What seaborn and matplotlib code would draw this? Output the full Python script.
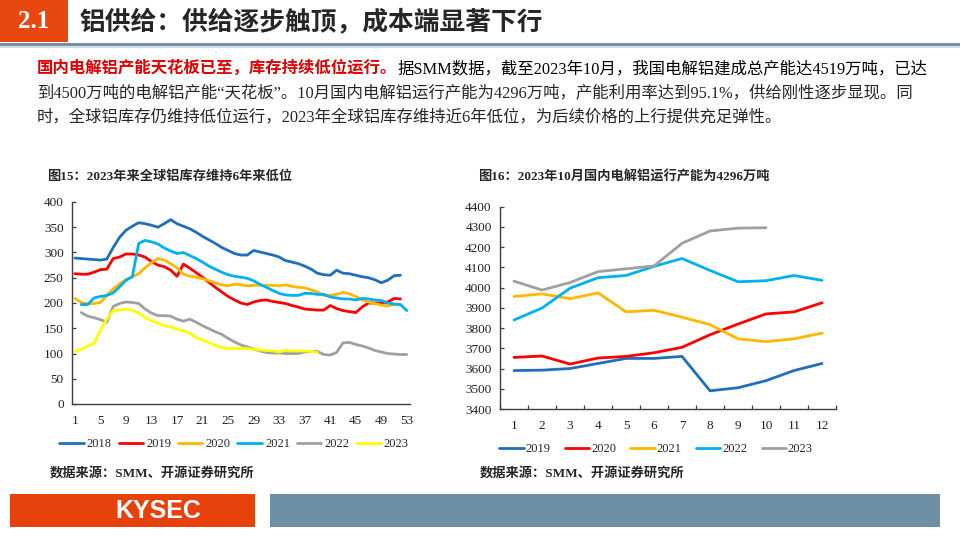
import matplotlib
matplotlib.use("Agg")
from matplotlib import pyplot as plt
from matplotlib.patches import Rectangle
from matplotlib.lines import Line2D
import numpy as np
import pandas as pd
import seaborn as sns

nan = np.nan

# ----- data: global aluminium inventory (10k t), weekly -----
weeks = list(range(1, 54))
stock_2018 = [289, 288, 287, 286, 285, 287, 310, 330, 344, 352,
              359, 357, 354, 350, 357, 365, 357, 352, 347, 340,
              332, 325, 318, 310, 304, 298, 295, 295, 304, 301,
              298, 295, 291, 284, 281, 278, 273, 267, 259, 256,
              255, 265, 259, 258, 255, 252, 250, 246, 240, 245,
              254, 255, nan]
stock_2019 = [258, 257, 257, 261, 266, 267, 288, 291, 297, 297,
              295, 291, 282, 275, 272, 265, 253, 277, 269, 260,
              251, 241, 231, 222, 213, 206, 200, 197, 202, 205,
              206, 203, 201, 199, 195, 192, 188, 187, 186, 186,
              195, 189, 185, 183, 181, 192, 200, 200, 200, 202,
              209, 208, nan]
stock_2020 = [209, 201, 198, 199, 201, 215, 228, 238, 246, 252,
              258, 270, 280, 288, 285, 278, 270, 257, 253, 251,
              248, 244, 240, 236, 234, 237, 236, 234, 235, 235,
              235, 235, 234, 236, 233, 231, 230, 226, 222, 215,
              215, 217, 221, 218, 213, 206, 202, 199, 196, 194,
              197, 197, nan]
stock_2021 = [nan, 197, 197, 210, 213, 215, 220, 232, 245, 252,
              318, 324, 321, 317, 309, 303, 298, 300, 294, 288,
              281, 273, 267, 261, 256, 253, 251, 249, 244, 237,
              231, 225, 219, 216, 215, 215, 219, 219, 217, 217,
              212, 210, 208, 208, 206, 209, 208, 206, 205, 200,
              198, 197, 185]
stock_2022 = [nan, 181, 174, 171, 167, 162, 193, 199, 202, 201,
              199, 188, 180, 175, 175, 174, 168, 164, 168, 162,
              155, 149, 143, 138, 130, 123, 117, 113, 109, 105,
              102, 101, 101, 100, 100, 100, 103, 104, 104, 98,
              97, 102, 121, 122, 118, 115, 111, 106, 103, 100,
              99, 98, 98]
stock_2023 = [104, 108, 115, 120, 147, 168, 185, 186, 188, 186,
              180, 171, 165, 160, 155, 153, 148, 145, 140, 131,
              127, 121, 116, 112, 110, 110, 110, 110, 108, 107,
              106, 105, 103, 106, 105, 105, 105, 104, 102] + [nan] * 14
stock_years = ["2018", "2019", "2020", "2021", "2022", "2023"]
stock_colors = ["#1F6FBA", "#FF0000", "#FFB800", "#00B0F0", "#A0A0A0", "#FFFF00"]

# ----- data: domestic electrolytic aluminium running capacity (10k t), monthly -----
months = list(range(1, 13))
cap_2019 = [3590, 3592, 3600, 3625, 3650, 3650, 3660, 3490, 3505, 3540, 3590, 3625]
cap_2020 = [3655, 3662, 3622, 3652, 3660, 3678, 3705, 3767, 3820, 3870, 3880, 3925]
cap_2021 = [3956, 3969, 3945, 3974, 3880, 3888, 3854, 3817, 3747, 3733, 3747, 3775]
cap_2022 = [3840, 3899, 3997, 4049, 4060, 4105, 4144, 4085, 4029, 4034, 4060, 4036]
cap_2023 = [4032, 3988, 4025, 4079, 4093, 4107, 4219, 4280, 4294, 4296, nan, nan]
cap_years = ["2019", "2020", "2021", "2022", "2023"]
cap_colors = ["#1F6FBA", "#FF0000", "#FFB800", "#00B0F0", "#A0A0A0"]


def to_long(xs, series, names, xname):
    rows = []
    for name, vals in zip(names, series):
        for x, v in zip(xs, vals):
            if not np.isnan(v):
                rows.append({xname: x, "value": v, "year": name})
    return pd.DataFrame(rows)


df_stock = to_long(weeks, [stock_2018, stock_2019, stock_2020, stock_2021,
                           stock_2022, stock_2023], stock_years, "week")
df_cap = to_long(months, [cap_2019, cap_2020, cap_2021, cap_2022, cap_2023],
                 cap_years, "month")

sns.set_theme(style="white")
plt.rcParams["font.family"] = ["Liberation Serif", "Noto Sans CJK SC"]
plt.rcParams["axes.unicode_minus"] = False

fig = plt.figure(figsize=(9.6, 5.4), dpi=100)
W, H = 960, 540


def fx(px):
    return px / W


def fy(py):
    return 1 - py / H


# ----- header -----
fig.patches.append(Rectangle((0, fy(42)), fx(68), 42 / H, transform=fig.transFigure,
                             facecolor="#E8470F", edgecolor="none"))
fig.text(fx(34), fy(21), "2.1", color="white", fontsize=18, weight="bold",
         ha="center", va="center", family=["Liberation Serif"])
fig.text(fx(80), fy(22), "铝供给：供给逐步触顶，成本端显著下行", fontsize=18.5,
         weight="bold", ha="left", va="center", family=["Noto Sans CJK SC"])
fig.add_artist(Line2D([0, 1], [fy(44), fy(44)], transform=fig.transFigure,
                      color="#6D8A9C", lw=2))
fig.add_artist(Line2D([0, 1], [fy(46.5), fy(46.5)], transform=fig.transFigure,
                      color="#CBD5DC", lw=1.2))

# ----- paragraph -----
para_fs = 11.8
t_red = fig.text(fx(37), fy(77), "国内电解铝产能天花板已至，库存持续低位运行。",
                 color="#E00000", fontsize=para_fs, weight="bold", va="bottom")
fig.add_artist(plt.Annotation("据SMM数据，截至2023年10月，我国电解铝建成总产能达4519万吨，已达",
                              xy=(1, 0), xycoords=t_red, va="bottom",
                              fontsize=para_fs, color="black"))
fig.text(fx(37), fy(101), "到4500万吨的电解铝产能“天花板”。10月国内电解铝运行产能为4296万吨，"
         "产能利用率达到95.1%，供给刚性逐步显现。同", fontsize=para_fs, va="bottom")
fig.text(fx(37), fy(125), "时，全球铝库存仍维持低位运行，2023年全球铝库存维持近6年低位，"
         "为后续价格的上行提供充足弹性。", fontsize=para_fs, va="bottom")

# ----- chart titles -----
fig.text(fx(47), fy(177), "图15：2023年来全球铝库存维持6年来低位", fontsize=9.5,
         weight="bold", va="center")
fig.text(fx(478), fy(177), "图16：2023年10月国内电解铝运行产能为4296万吨",
         fontsize=9.5, weight="bold", va="center")

# ----- left chart -----
ax1 = fig.add_axes([fx(72), fy(404), fx(410) - fx(72), (404 - 202) / H])
sns.lineplot(data=df_stock, x="week", y="value", hue="year", hue_order=stock_years,
             palette=dict(zip(stock_years, stock_colors)), linewidth=2.0,
             errorbar=None, ax=ax1)
ax1.set_xlim(0.55, 53.5)
ax1.set_ylim(0, 400)
ax1.set_xticks(range(1, 54, 4))
ax1.set_yticks(range(0, 401, 50))

# ----- right chart -----
ax2 = fig.add_axes([fx(500), fy(409), fx(836) - fx(500), (409 - 206.7) / H])
sns.lineplot(data=df_cap, x="month", y="value", hue="year", hue_order=cap_years,
             palette=dict(zip(cap_years, cap_colors)), linewidth=2.0,
             errorbar=None, ax=ax2)
ax2.set_xlim(0.5, 12.5)
ax2.set_ylim(3400, 4400)
ax2.set_xticks(months)
ax2.set_xticks(np.arange(0.5, 12.6, 1), minor=True)
ax2.set_yticks(range(3400, 4401, 100))

for ax in (ax1, ax2):
    ax.set_xlabel("")
    ax.set_ylabel("")
    for s in ("top", "right"):
        ax.spines[s].set_visible(False)
    for s in ("left", "bottom"):
        ax.spines[s].set_color("#404040")
        ax.spines[s].set_linewidth(1.0)
    ax.tick_params(axis="y", direction="in", length=3, width=0.9, color="#404040",
                   left=True, pad=6, labelsize=9.5, labelcolor="#222222")
    ax.tick_params(axis="x", which="major", length=0, pad=8, labelsize=9.5,
                   labelcolor="#222222")

ax2.tick_params(axis="x", which="minor", direction="in", length=3, width=0.9,
                color="#404040", bottom=True)

# legends
h1, l1 = ax1.get_legend_handles_labels()
ax1.legend(h1, l1, ncol=6, loc="center", frameon=False, fontsize=9,
           bbox_to_anchor=(fx(234), fy(444)), bbox_transform=fig.transFigure,
           handlelength=1.95, handletextpad=0.25, columnspacing=0.55)
h2, l2 = ax2.get_legend_handles_labels()
ax2.legend(h2, l2, ncol=5, loc="center", frameon=False, fontsize=9,
           bbox_to_anchor=(fx(656), fy(449)), bbox_transform=fig.transFigure,
           handlelength=1.95, handletextpad=0.15, columnspacing=1.15)

# sources
fig.text(fx(50), fy(473), "数据来源：SMM、开源证券研究所", fontsize=9.5,
         weight="bold", va="center")
fig.text(fx(480), fy(473), "数据来源：SMM、开源证券研究所", fontsize=9.5,
         weight="bold", va="center")

# ----- footer banner -----
fig.patches.append(Rectangle((fx(10), fy(527)), fx(245), 33 / H, transform=fig.transFigure,
                             facecolor="#E8420C", edgecolor="none"))
fig.patches.append(Rectangle((fx(270), fy(527)), fx(670), 33 / H, transform=fig.transFigure,
                             facecolor="#6E8FA3", edgecolor="none"))
fig.text(fx(158), fy(511), "KYSEC", color="white", fontsize=18, weight="bold",
         ha="center", va="center", family=["Liberation Sans"])

fig.savefig("out.png", dpi=100)
